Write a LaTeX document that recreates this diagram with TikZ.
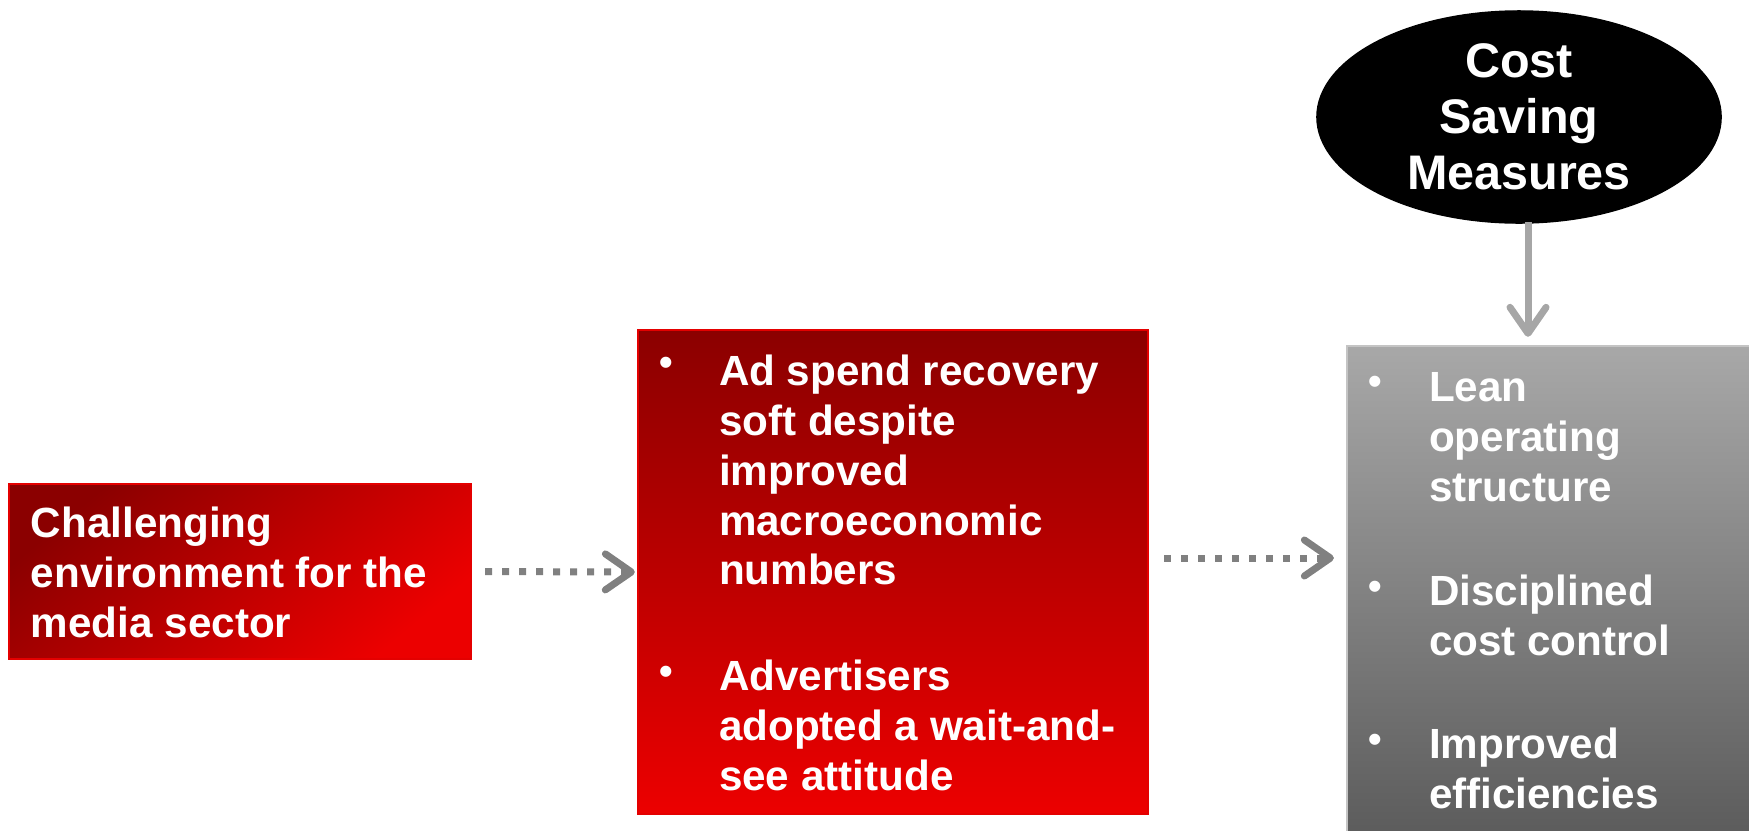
\documentclass[tikz,border=0pt]{standalone}
\usepackage{fontspec}
\setmainfont{Liberation Sans}
\usetikzlibrary{arrows.meta,shapes.geometric}

\definecolor{redDark}{HTML}{8B0000}
\definecolor{redBright}{HTML}{EC0000}
\definecolor{redEdge}{HTML}{E40000}
\definecolor{greyTop}{HTML}{A8A8A8}
\definecolor{greyBot}{HTML}{5C5C5C}
\definecolor{greyEdge}{HTML}{C4C4C4}
\definecolor{dotGrey}{HTML}{808080}
\definecolor{stemGrey}{HTML}{A6A6A6}

\tikzset{
  box/.style={rectangle, inner sep=0pt, outer sep=0pt},
  boxtxt/.style={text=white, font=\bfseries\fontsize{12}{14.2}\selectfont,
    align=left, inner sep=0pt, outer sep=0pt},
  bul/.style={text=white, font=\bfseries\fontsize{11}{12}\selectfont, inner sep=0pt},
  dotarrow/.style={draw=dotGrey, line width=0.07cm, dash pattern=on 0.07cm off 0.10cm,
    -{Straight Barb[length=0.26cm, width=0.36cm, line cap=round, line join=round]}},
  stemarrow/.style={draw=stemGrey, line width=0.07cm,
    -{Straight Barb[length=0.26cm, width=0.36cm, line cap=round, line join=round]}}
}

\begin{document}
\begin{tikzpicture}[x=0.01cm, y=-0.01cm]
  \useasboundingbox (0,0) rectangle (1749,830);

  % boxes
  \node[box, minimum width=4.62cm, minimum height=1.75cm,
        top color=redDark, bottom color=redBright, shading angle=40,
        draw=redEdge, line width=0.4pt] (lb) at (240,571.5) {};
  \node[box, minimum width=5.10cm, minimum height=4.84cm,
        top color=redDark, bottom color=redBright,
        draw=redEdge, line width=0.4pt] (mb) at (893,572) {};
  \node[box, minimum width=4.04cm, minimum height=4.88cm,
        top color=greyTop, bottom color=greyBot,
        draw=greyEdge, line width=0.6pt] (rb) at (1549,590) {};
  \node[ellipse, fill=black, draw=black, minimum width=4.04cm, minimum height=2.12cm,
        inner sep=0pt] (el) at (1519,117) {};

  % texts
  \node[boxtxt, anchor=west] (lt) at (31,572)
    {Challenging\\environment for the\\media sector};

  \node[bul] (mb1) at (666,366) {•};
  \node[boxtxt, anchor=west] (mt1) at (719,470)
    {Ad spend recovery\\soft despite\\improved\\macroeconomic\\numbers};
  \node[bul] (mb2) at (666,675) {•};
  \node[boxtxt, anchor=west] (mt2) at (719,725)
    {Advertisers\\adopted a wait-and-\\see attitude};

  \node[bul] (rb1) at (1375,385) {•};
  \node[boxtxt, anchor=west] (rt1) at (1429,437)
    {Lean\\operating\\structure};
  \node[bul] (rb2) at (1375,590) {•};
  \node[boxtxt, anchor=west] (rt2) at (1429,615)
    {Disciplined\\cost control};
  \node[bul] (rb3) at (1375,743) {•};
  \node[boxtxt, anchor=west] (rt3) at (1429,768)
    {Improved\\efficiencies};

  \node[text=white, font=\bfseries\fontsize{13.8}{15.9}\selectfont,
        align=center, inner sep=0pt] (et) at (el.center) {Cost\\Saving\\Measures};

  % connectors
  \draw[dotarrow, shorten <=0.14cm, shorten >=0.03cm] (lb.east) -- (mb.west);
  \draw[dotarrow, shorten <=0.16cm, shorten >=0.13cm]
    ([yshift=0.14cm]mb.east) -- ([yshift=0.14cm]mb.east -| rb.west);
  \draw[stemarrow, shorten <=-0.02cm, shorten >=0.09cm]
    ([xshift=0.09cm]el.south) -- ([xshift=0.09cm]el.south |- rb.north);
\end{tikzpicture}
\end{document}
